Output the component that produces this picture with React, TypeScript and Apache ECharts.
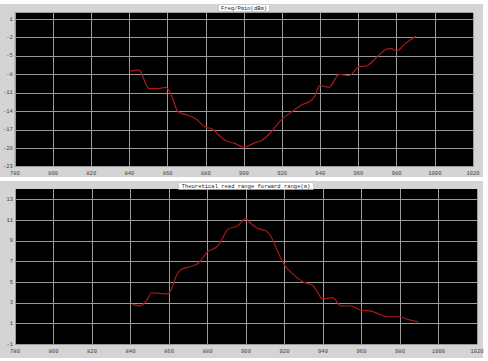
import React, { useEffect, useRef } from "react";
import * as echarts from "echarts";

const topTitle = "Freq/Pmin(dBm)";
const bottomTitle = "Theoretical read range forward range(m)";

const pminFreq = [840, 844.5, 846, 850.5, 855, 859, 862, 865.5, 870.5, 875, 879.5, 883.5, 886, 890.5, 895, 900, 906.5, 909, 913.5, 919.5, 924.5, 930, 934.5, 937, 940, 944.5, 950, 955, 960, 964.5, 970, 974.5, 977, 980, 984.5, 990];
const pminValues = [-7.5, -7.3, -7.6, -10.3, -10.3, -10.1, -11.4, -14.1, -14.6, -15.3, -16.5, -16.9, -17.6, -18.8, -19.2, -19.8, -19.0, -18.8, -17.6, -15.4, -14.2, -13.0, -12.4, -11.6, -9.8, -10.1, -8.0, -8.2, -6.8, -6.6, -5.1, -3.9, -3.8, -4.2, -3.0, -1.8];

const rangeFreq = [841, 845, 848.5, 851, 854.5, 859, 861, 864, 866.5, 871, 875.5, 880, 885, 887.5, 890.5, 895.5, 900, 901.5, 906, 910.5, 913, 916.5, 920, 924, 929.5, 934.5, 937, 940, 945, 949.5, 954.5, 959.5, 965, 969, 973.5, 979.5, 984, 989.5];
const rangeValues = [2.86, 2.72, 3.27, 3.98, 3.92, 3.85, 4.24, 5.69, 6.24, 6.49, 6.88, 7.94, 8.42, 9.13, 10.1, 10.42, 11.16, 10.84, 10.2, 9.94, 9.39, 7.94, 6.65, 5.85, 5.04, 4.72, 4.07, 3.37, 3.5, 2.7, 2.7, 2.3, 2.2, 1.92, 1.66, 1.66, 1.41, 1.17];

const topYTicks = [-23, -20, -17, -14, -11, -8, -5, -2, 1];
const bottomYTicks = [-1, 1, 3, 5, 7, 9, 11, 13];

const FONT = "Liberation Mono";
const labelStyle = { color: "#444", fontSize: 5.5, fontFamily: FONT };

function xAxis(gridIndex: number) {
  return {
    type: "value",
    gridIndex,
    min: 780,
    max: 1020,
    interval: 20,
    axisLine: { show: false },
    axisTick: { show: false },
    axisLabel: { ...labelStyle, margin: 4, formatter: (v: number) => String(v) },
    splitLine: { show: true, lineStyle: { color: "#9a9a9a", width: 1 } },
  };
}

function yAxis(gridIndex: number, min: number, max: number, ticks: number[]) {
  return {
    type: "value",
    gridIndex,
    min,
    max,
    axisLine: { show: false },
    axisTick: { show: false, customValues: ticks },
    axisLabel: { ...labelStyle, margin: 2, customValues: ticks, formatter: (v: number) => String(v) },
    splitLine: { show: true, lineStyle: { color: "#9a9a9a", width: 1 } },
  };
}

export default function App() {
  const ref = useRef<HTMLDivElement>(null);
  useEffect(() => {
    if (!ref.current) return;
    const chart = echarts.init(ref.current, null, { renderer: "svg" });
    chart.setOption({
      animation: false,
      backgroundColor: "#ffffff",
      graphic: [
        { type: "rect", shape: { x: 0, y: 4, width: 483, height: 173 }, style: { fill: "#d4d4d4" }, z: -10 },
        { type: "rect", shape: { x: 0, y: 181, width: 483, height: 177 }, style: { fill: "#d4d4d4" }, z: -10 },
      ],
      title: [
        {
          text: topTitle,
          left: 241,
          top: 4,
          textAlign: "center",
          backgroundColor: "#ffffff",
          borderColor: "#aaaaaa",
          borderWidth: 0.5,
          padding: [1, 3],
          textStyle: { fontSize: 5.5, fontWeight: "normal", color: "#222", fontFamily: FONT },
        },
        {
          text: bottomTitle,
          left: 243,
          top: 182,
          textAlign: "center",
          backgroundColor: "#ffffff",
          borderColor: "#aaaaaa",
          borderWidth: 0.5,
          padding: [1, 3],
          textStyle: { fontSize: 5.5, fontWeight: "normal", color: "#222", fontFamily: FONT },
        },
      ],
      grid: [
        { left: 13, right: 15, top: 12.85, bottom: 194.3, show: true, backgroundColor: "#000", borderWidth: 0 },
        { left: 15, right: 11, top: 189, bottom: 16.7, show: true, backgroundColor: "#000", borderWidth: 0 },
      ],
      xAxis: [xAxis(0), xAxis(1)],
      yAxis: [yAxis(0, -23, 2, topYTicks), yAxis(1, -1, 14, bottomYTicks)],
      series: [
        {
          type: "line",
          xAxisIndex: 0,
          yAxisIndex: 0,
          data: pminFreq.map((f, i) => [f, pminValues[i]]),
          showSymbol: false,
          smooth: 0.3,
          lineStyle: { color: "#a81818", width: 1.2 },
        },
        {
          type: "line",
          xAxisIndex: 1,
          yAxisIndex: 1,
          data: rangeFreq.map((f, i) => [f, rangeValues[i]]),
          showSymbol: false,
          smooth: 0.3,
          lineStyle: { color: "#a81818", width: 1.2 },
        },
      ],
    });
    return () => chart.dispose();
  }, []);
  return <div ref={ref} style={{ position: "fixed", left: 0, top: 0, width: 488, height: 361 }} />;
}
